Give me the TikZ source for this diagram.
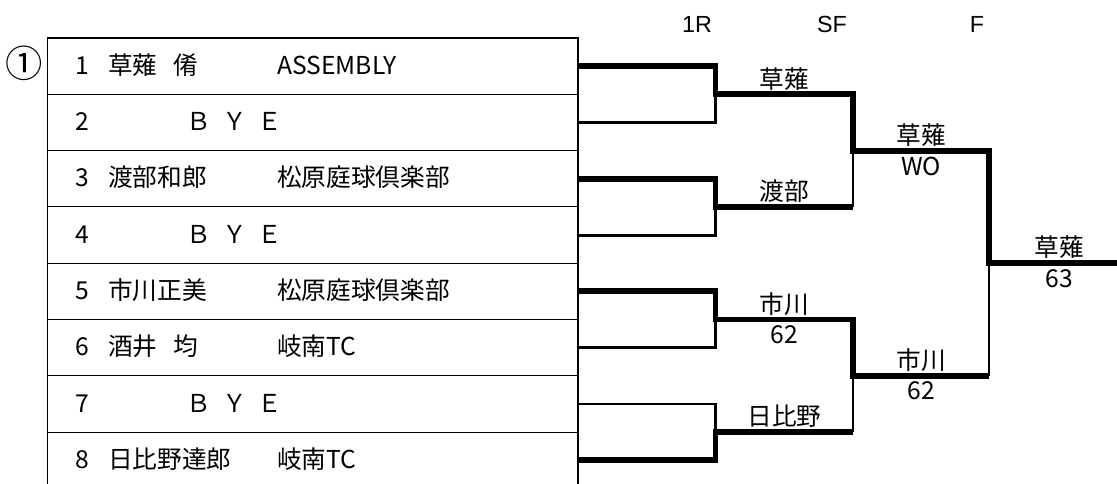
\documentclass[tikz,border=0pt]{standalone}
\usepackage{fontspec}
\setmainfont{Noto Sans CJK JP}
\newfontfamily\headfont{Liberation Sans}
\tikzset{
  tbl/.style={line width=0.8pt},
  won/.style={line width=4.4pt},
  lost/.style={line width=2.2pt},
  big/.style={font=\fontsize{18.5pt}{20pt}\selectfont, inner sep=0pt},
  num/.style={big, anchor=base west},
  res/.style={big, anchor=south, yshift=3pt},
  score/.style={big, anchor=north, yshift=-4.5pt},
  head/.style={font=\headfont\fontsize{17.5pt}{19pt}\selectfont, inner sep=0pt, anchor=base},
}
\newcommand{\byetext}{Ｂ\hspace{.45em}Ｙ\hspace{.45em}Ｅ}
\begin{document}
\begin{tikzpicture}[x=0.75pt,y=-0.75pt]
  \useasboundingbox (0,0) rectangle (1117,484);
  \clip (0,0) rectangle (1117,484);
  % table
  \draw[tbl] (47.5,38) rectangle (578,488.4);
  \draw[tbl]
    (47.5,94.3) -- (578,94.3)
    (47.5,150.6) -- (578,150.6)
    (47.5,206.9) -- (578,206.9)
    (47.5,263.2) -- (578,263.2)
    (47.5,319.5) -- (578,319.5)
    (47.5,375.8) -- (578,375.8)
    (47.5,432.1) -- (578,432.1);
  \node[inner sep=0pt, font=\fontsize{28pt}{30pt}\selectfont] (mark) at (24.5,63) {①};
  \draw
    (75,74.2) node[num] (n1){1}
    (75,130.5) node[num] (n2){2}
    (75,186.8) node[num] (n3){3}
    (75,243.1) node[num] (n4){4}
    (75,299.4) node[num] (n5){5}
    (75,355.7) node[num] (n6){6}
    (75,412.0) node[num] (n7){7}
    (75,468.3) node[num] (n8){8};
  \draw
    (108,74.2) node[num] (a1){草薙\hspace{.65em}倄}
    (186,130.5) node[num] (a2){\byetext}
    (108,186.8) node[num] (a3){渡部和郎}
    (186,243.1) node[num] (a4){\byetext}
    (108,299.4) node[num] (a5){市川正美}
    (108,355.7) node[num] (a6){酒井\hspace{.65em}均}
    (186,412.0) node[num] (a7){\byetext}
    (108,468.3) node[num] (a8){日比野達郎};
  \draw
    (277,74.2) node[num] (c1){ASSEMBLY}
    (277,186.8) node[num] (c3){松原庭球倶楽部}
    (277,299.4) node[num] (c5){松原庭球倶楽部}
    (277,355.7) node[num] (c6){岐南TC}
    (277,468.3) node[num] (c8){岐南TC};
  % rounds
  \node[head] (r1) at (697,32.7) {1R};
  \node[head] (r2) at (832,32.7) {SF};
  \node[head] (r3) at (977,32.7) {F};
  % bracket
  \coordinate (e1) at (578,66.2);
  \coordinate (e2) at (578,122.5);
  \coordinate (e3) at (578,178.8);
  \coordinate (e4) at (578,235.1);
  \coordinate (e5) at (578,291.4);
  \coordinate (e6) at (578,347.7);
  \coordinate (e7) at (578,404.0);
  \coordinate (e8) at (578,460.3);
  \coordinate (q1) at (715.5,94.3);
  \coordinate (q2) at (715.5,206.9);
  \coordinate (q3) at (715.5,319.5);
  \coordinate (q4) at (715.5,432.1);
  \coordinate (s1) at (853,150.6);
  \coordinate (s2) at (853,375.8);
  \coordinate (f) at (989,263.2);
  \coordinate (champ) at (1125,263.2);
  \begin{scope}[lost]
    \draw (e2) -| (q1);
    \draw (e4) -| (q2);
    \draw (e6) -| (q3);
    \draw (e7) -| (q4);
    \draw (q2 -| s1) -- (s1);
    \draw (q4 -| s2) -- (s2);
    \draw (s2 -| f) -- (f);
  \end{scope}
  \begin{scope}[won]
    \draw (e1) -| (q1) -| (s1) -| (f) -- (champ);
    \draw (e3) -| (q2) -- (q2 -| s1);
    \draw (e5) -| (q3) -| (s2) -- (s2 -| f);
    \draw (e8) -| (q4) -- (q4 -| s2);
  \end{scope}
  % results
  \node[res] (w1) at (784.5,94.3) {草薙};
  \node[res] (w2) at (784.5,206.9) {渡部};
  \node[res] (w3) at (784.5,319.5) {市川};
  \node[score] (w3s) at (784.5,319.5) {62};
  \node[res] (w4) at (784.5,432.1) {日比野};
  \node[res] (v1) at (921,150.6) {草薙};
  \node[score] (v1s) at (921,150.6) {WO};
  \node[res] (v2) at (921,375.8) {市川};
  \node[score] (v2s) at (921,375.8) {62};
  \node[res] (win) at (1059,263.2) {草薙};
  \node[score] (wins) at (1059,263.2) {63};
\end{tikzpicture}
\end{document}
